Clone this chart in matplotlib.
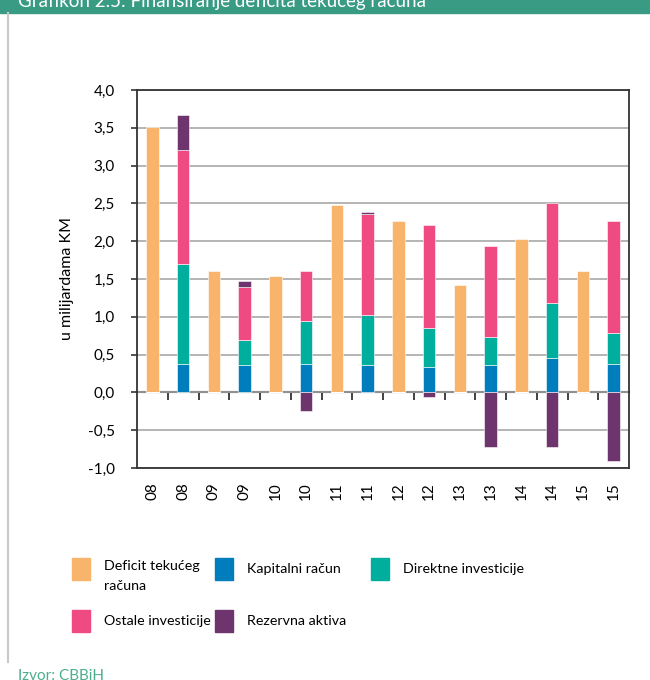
import numpy as np
import matplotlib
matplotlib.use('Agg')
import matplotlib.pyplot as plt
from matplotlib.patches import Rectangle
from matplotlib.lines import Line2D
from matplotlib.ticker import FuncFormatter

plt.rcParams['font.family'] = ['Lato', 'DejaVu Sans']

# Podaci (mlrd KM), po parovima: deficit / finansiranje
godine = ['08', '08', '09', '09', '10', '10', '11', '11',
          '12', '12', '13', '13', '14', '14', '15', '15']
deficit = [3.51, 0, 1.60, 0, 1.54, 0, 2.48, 0, 2.27, 0, 1.42, 0, 2.03, 0, 1.60, 0]
kapitalni = [0, 0.38, 0, 0.36, 0, 0.38, 0, 0.36, 0, 0.33, 0, 0.36, 0, 0.45, 0, 0.38]
direktne = [0, 1.32, 0, 0.33, 0, 0.56, 0, 0.66, 0, 0.52, 0, 0.37, 0, 0.73, 0, 0.40]
ostale = [0, 1.51, 0, 0.71, 0, 0.66, 0, 1.34, 0, 1.36, 0, 1.20, 0, 1.33, 0, 1.49]
rezervna = [0, 0.46, 0, 0.08, 0, -0.25, 0, 0.03, 0, -0.06, 0, -0.72, 0, -0.72, 0, -0.91]

naslov = 'Grafikon 2.5: Finansiranje deficita tekućeg računa'
serije = ['Deficit tekućeg\nračuna', 'Kapitalni račun', 'Direktne investicije',
          'Ostale investicije', 'Rezervna aktiva']
boje = ['#F9B46B', '#007DBC', '#00AE9E', '#EF4A81', '#6D346D']

W, H = 650, 680
fig = plt.figure(figsize=(6.5, 6.8), dpi=100)

def fx(px):
    return px / W

def fy(py):
    return 1 - py / H

ax = fig.add_axes([fx(137), fy(468), fx(629) - fx(137), fy(90) - fy(468)])

x = np.arange(len(godine))
sirina = 0.41
kap = np.array(kapitalni)
dirk = np.array(direktne)
ost = np.array(ostale)
rez = np.array(rezervna)

# tanki svijetli rub kao u originalu
rub = dict(edgecolor='#FFFFFF', linewidth=0.4, zorder=3)
ax.bar(x, deficit, sirina, color=boje[0], **rub)
ax.bar(x, kap, sirina, color=boje[1], **rub)
ax.bar(x, dirk, sirina, bottom=kap, color=boje[2], **rub)
ax.bar(x, ost, sirina, bottom=kap + dirk, color=boje[3], **rub)
rez_dno = np.where(rez > 0, kap + dirk + ost, 0)
ax.bar(x, rez, sirina, bottom=rez_dno, color=boje[4], **rub)

ax.set_xlim(-0.5, len(godine) - 0.5)
ax.set_ylim(-1.0, 4.0)
ax.set_yticks(np.arange(-1.0, 4.01, 0.5))
ax.yaxis.set_major_formatter(FuncFormatter(lambda v, p: f'{v:.1f}'.replace('.', ',')))
ax.yaxis.grid(True, color='#A8A8A8', linewidth=1.2, zorder=0)
ax.tick_params(axis='y', length=4, width=1.2, color='#333333', labelsize=11, pad=12)

ax.set_xticks(x)
ax.set_xticklabels(godine, rotation=90, fontsize=11)
ax.tick_params(axis='x', length=0, pad=10)

for s in ax.spines.values():
    s.set_color('#333333')
    s.set_linewidth(1.3)

# nulta linija s oznakama izmedju stupaca
nula = ax.secondary_xaxis(0.2)
nula.set_xticks(np.arange(0.5, len(godine) - 0.5, 1))
nula.set_xticklabels([])
nula.tick_params(length=6, width=1.2, color='#222222', direction='out')
nula.spines['bottom'].set_color('#222222')
nula.spines['bottom'].set_linewidth(1.5)

ax.set_ylabel('u milijardama KM', fontsize=11.5, labelpad=10)

# zaglavlje
fig.patches.append(Rectangle((0, fy(13)), 1, fy(0) - fy(13), transform=fig.transFigure,
                             color='#3A9B84', zorder=0))
fig.text(fx(18), fy(7), naslov, color='white', fontsize=13.5, va='baseline', ha='left')
fig.lines.append(Line2D([fx(8), fx(8)], [fy(13), fy(662)], transform=fig.transFigure,
                        color='#C8C8C8', linewidth=1.5))

# legenda
pozicije = [(72, 558), (215, 558), (371, 558), (72, 610), (215, 610)]
for (px, py), oznaka, boja in zip(pozicije, serije, boje):
    fig.patches.append(Rectangle((fx(px), fy(py + 22)), fx(18), 22 / H,
                                 transform=fig.transFigure, color=boja))
    if '\n' in oznaka:
        fig.text(fx(px + 32), fy(py + 2), oznaka, fontsize=10.3, va='top', ha='left',
                 linespacing=1.75)
    else:
        fig.text(fx(px + 32), fy(py + 11), oznaka, fontsize=10.3, va='center', ha='left')

fig.text(fx(18), fy(669), 'Izvor: CBBiH', color='#4FAE8C', fontsize=11, va='top', ha='left')

fig.savefig('out.png', dpi=100)
